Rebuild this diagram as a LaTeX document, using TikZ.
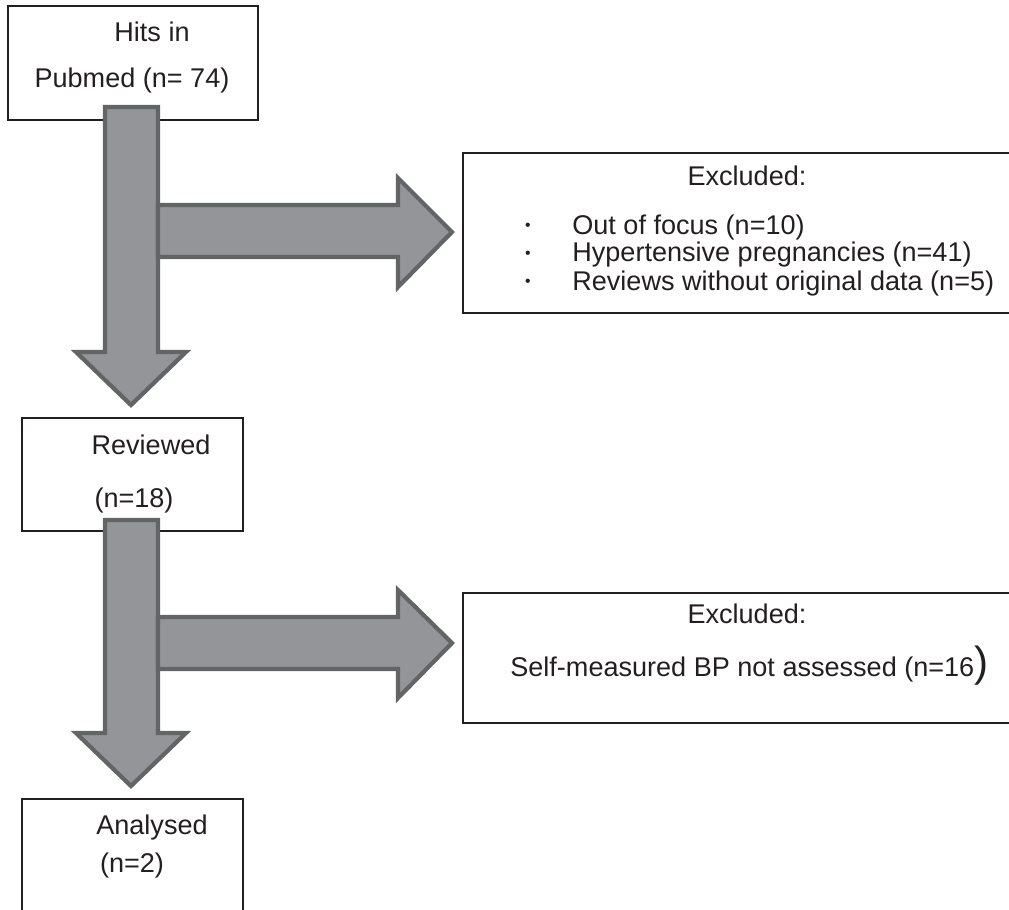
\documentclass[tikz,border=0pt]{standalone}
\usepackage{fontspec}
\setmainfont{Liberation Sans}
\usetikzlibrary{fit}
\definecolor{arrowfill}{RGB}{147,149,152}
\definecolor{arrowline}{RGB}{99,100,102}
\definecolor{boxline}{RGB}{35,31,32}
\begin{document}
\begin{tikzpicture}[x=0.02cm,y=-0.02cm,
  box/.style={draw=boxline, line width=0.8pt, inner sep=0pt},
  blockarrow/.style={fill=arrowfill, draw=arrowline, line width=2.4pt, line join=miter},
  lbl/.style={font=\fontsize{15.4}{18}\selectfont, text=boxline, inner sep=0pt},
  dot/.style={font=\fontsize{9}{9}\selectfont, text=boxline, inner sep=0pt}]
  \useasboundingbox (0,0) rectangle (1009,910);
  % Boxes (the excluded boxes and the last one run off the page)
  \node[box, fit={(8,6) (258,120)}]      (hits)  {};
  \node[box, fit={(463,153) (1030,313)}] (excla) {};
  \node[box, fit={(22,418) (243,531)}]   (rev)   {};
  \node[box, fit={(463,593) (1030,723)}] (exclb) {};
  \node[box, fit={(22,799) (243,930)}]   (anal)  {};
  % Block arrows: down shafts first, side arrows on top
  \draw[blockarrow] (105,107) -- (158,107) -- (158,352) -- (186,352)
    -- (131,405) -- (76,352) -- (105,352) -- cycle;
  \draw[blockarrow] (158,205) -- (398,205) -- (398,178) -- (452,232)
    -- (398,287) -- (398,257) -- (158,257) -- cycle;
  \draw[blockarrow] (105,520) -- (158,520) -- (158,733) -- (186,733)
    -- (131,786) -- (76,733) -- (105,733) -- cycle;
  \draw[blockarrow] (158,617) -- (398,617) -- (398,590) -- (452,643)
    -- (398,698) -- (398,669) -- (158,669) -- cycle;
  % Box texts
  \node[lbl] (hitsa) at (152,32)  {Hits in};
  \node[lbl] (hitsb) at (132,80)  {Pubmed (n= 74)};
  \node[lbl] (exa)   at (747,176) {Excluded:};
  \foreach \y/\txt [count=\i] in {227/Out of focus (n=10),
      255/Hypertensive pregnancies (n=41),
      283/Reviews without original data (n=5)}{
    \node[dot] (dota\i) at (528,\y) {\textbullet};
    \node[lbl, anchor=west] (itema\i) at (572,\y) {\txt};
  }
  \node[lbl] (reva)  at (151,445) {Reviewed};
  \node[lbl] (revb)  at (134,500) {(n=18)};
  \node[lbl] (exb)   at (747,614) {Excluded:};
  \node[lbl, anchor=west] (itemb) at (510,666)
    {Self-measured BP not assessed (n=16{\fontsize{24}{24}\selectfont )}};
  \node[lbl] (anala) at (152,827) {Analysed};
  \node[lbl] (analb) at (132,865) {(n=2)};
\end{tikzpicture}
\end{document}
